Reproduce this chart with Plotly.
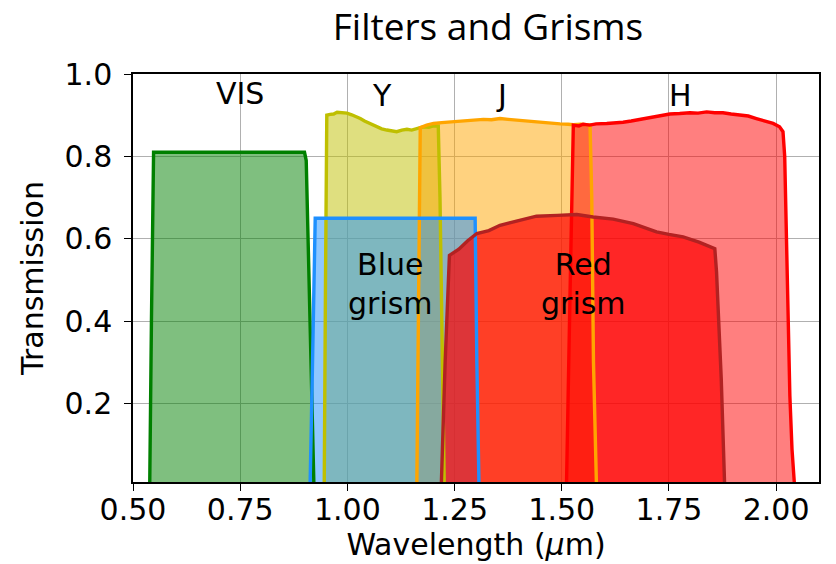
import plotly.graph_objects as go

# ---- transmission curves (wavelength in micron, transmission 0-1) ----
vis_wl = [0.500, 0.539, 0.543, 0.548, 0.60, 0.70, 0.80, 0.90, 0.904, 0.915, 0.922, 1.00, 1.50, 2.10]
vis_tr = [0.000, 0.000, 0.400, 0.810, 0.810, 0.810, 0.810, 0.810, 0.790, 0.300, 0.000, 0.000, 0.000, 0.000]

y_wl = [0.940, 0.946, 0.949, 0.952, 0.960, 0.968, 0.976, 0.983, 0.991, 0.999, 1.010, 1.020,
        1.030, 1.040, 1.050, 1.061, 1.070, 1.080, 1.092, 1.103, 1.115, 1.127, 1.139, 1.150,
        1.160, 1.170, 1.180, 1.190, 1.201, 1.212, 1.216, 1.221, 1.226, 1.240]
y_tr = [0.000, 0.000, 0.500, 0.900, 0.902, 0.903, 0.907, 0.906, 0.906, 0.905, 0.901, 0.897,
        0.892, 0.886, 0.881, 0.876, 0.870, 0.867, 0.864, 0.862, 0.860, 0.864, 0.866, 0.864,
        0.868, 0.870, 0.872, 0.871, 0.874, 0.874, 0.700, 0.300, 0.000, 0.000]

j_wl = [1.150, 1.162, 1.166, 1.170, 1.185, 1.201, 1.220, 1.240, 1.260, 1.278, 1.298, 1.317,
        1.336, 1.356, 1.375, 1.395, 1.415, 1.434, 1.449, 1.473, 1.496, 1.515, 1.527, 1.545,
        1.558, 1.566, 1.570, 1.574, 1.581, 1.600]
j_tr = [0.000, 0.000, 0.450, 0.870, 0.876, 0.880, 0.882, 0.884, 0.886, 0.887, 0.888, 0.890,
        0.889, 0.892, 0.890, 0.888, 0.887, 0.884, 0.883, 0.880, 0.879, 0.878, 0.877, 0.878,
        0.877, 0.876, 0.700, 0.300, 0.000, 0.000]

h_wl = [1.495, 1.511, 1.519, 1.527, 1.540, 1.550, 1.565, 1.580, 1.605, 1.625, 1.643, 1.662,
        1.682, 1.700, 1.721, 1.737, 1.752, 1.775, 1.799, 1.818, 1.838, 1.857, 1.876, 1.895,
        1.915, 1.935, 1.954, 1.975, 1.993, 2.008, 2.016, 2.020, 2.024, 2.028, 2.032, 2.037,
        2.043, 2.060]
h_tr = [0.000, 0.000, 0.450, 0.876, 0.874, 0.878, 0.876, 0.879, 0.880, 0.881, 0.883, 0.886,
        0.890, 0.894, 0.898, 0.900, 0.903, 0.904, 0.906, 0.905, 0.908, 0.906, 0.906, 0.903,
        0.900, 0.898, 0.892, 0.886, 0.880, 0.872, 0.860, 0.800, 0.600, 0.380, 0.220, 0.090,
        0.000, 0.000]

blue_wl = [0.900, 0.913, 0.918, 0.925, 1.000, 1.100, 1.200, 1.298, 1.302, 1.307, 1.320]
blue_tr = [0.000, 0.000, 0.260, 0.650, 0.650, 0.650, 0.650, 0.650, 0.300, 0.000, 0.000]

red_wl = [1.200, 1.219, 1.228, 1.238, 1.260, 1.280, 1.302, 1.330, 1.356, 1.400, 1.441, 1.490,
          1.535, 1.573, 1.620, 1.667, 1.700, 1.721, 1.750, 1.783, 1.820, 1.857, 1.861, 1.872,
          1.880, 1.900]
red_tr = [0.000, 0.000, 0.300, 0.560, 0.575, 0.595, 0.613, 0.620, 0.633, 0.645, 0.655, 0.657,
          0.659, 0.653, 0.648, 0.637, 0.626, 0.617, 0.611, 0.605, 0.592, 0.576, 0.520, 0.260,
          0.000, 0.000]

filter_labels = ["VIS", "Y", "J", "H"]
filter_label_x = [0.75, 1.08, 1.36, 1.777]
filter_label_y = [0.953, 0.947, 0.947, 0.947]

grism_labels = ["Blue<br>grism", "Red<br>grism"]
grism_label_x = [1.10, 1.55]
grism_label_y = [0.49, 0.49]

x_ticks = [0.50, 0.75, 1.00, 1.25, 1.50, 1.75, 2.00]
y_ticks = [0.2, 0.4, 0.6, 0.8, 1.0]

# (wavelengths, transmission, edge colour, fill colour)
curves = [
    (vis_wl, vis_tr, "#008000", "rgba(0,128,0,0.5)"),
    (y_wl, y_tr, "#bfbf00", "rgba(191,191,0,0.5)"),
    (j_wl, j_tr, "#ffa500", "rgba(255,165,0,0.5)"),
    (h_wl, h_tr, "#ff0000", "rgba(255,0,0,0.5)"),
    (blue_wl, blue_tr, "#1e90ff", "rgba(30,144,255,0.5)"),
    (red_wl, red_tr, "#b22222", "rgba(255,0,0,0.7)"),
]

fig = go.Figure()

# shaded areas first, outlines on top of all of them
for wl, tr, edge, fill in curves:
    fig.add_trace(go.Scatter(x=wl, y=tr, mode="lines", fill="tozeroy",
                             fillcolor=fill, line=dict(width=0, color=edge),
                             hoverinfo="skip", showlegend=False))
for wl, tr, edge, fill in curves:
    fig.add_trace(go.Scatter(x=wl, y=tr, mode="lines",
                             line=dict(width=3.4, color=edge),
                             showlegend=False))

base_font = dict(family="DejaVu Sans", size=30, color="black")

for txt, x, y in zip(filter_labels, filter_label_x, filter_label_y):
    fig.add_annotation(x=x, y=y, text=txt, showarrow=False, font=base_font,
                       xanchor="center", yanchor="middle")
for txt, x, y in zip(grism_labels, grism_label_x, grism_label_y):
    fig.add_annotation(x=x, y=y, text=txt, showarrow=False, font=base_font,
                       xanchor="center", yanchor="middle")

axis_common = dict(
    automargin=False,
    showline=True, linecolor="black", linewidth=1.5, mirror=True,
    ticks="outside", ticklen=7, tickwidth=1.3, tickcolor="black",
    showgrid=True, gridcolor="#b0b0b0", gridwidth=1, zeroline=False,
    tickfont=base_font,
)

fig.update_layout(
    template="none",
    width=836, height=564,
    margin=dict(l=133, r=17, t=74, b=82),
    paper_bgcolor="white", plot_bgcolor="white",
    title=dict(text="Filters and Grisms", x=488 / 836, xref="container", xanchor="center",
               y=1 - 27 / 564, yref="container", yanchor="middle",
               font=dict(family="Open Sans", size=37, color="black")),
    xaxis=dict(range=[0.5, 2.1], tickvals=x_ticks, tickformat=".2f",
               ticklabelstandoff=-7,
               title=dict(text="Wavelength (<i>μ</i>m)", font=base_font, standoff=6),
               **axis_common),
    yaxis=dict(range=[0.01, 1.0], tickvals=y_ticks, tickformat=".1f",
               ticklabelstandoff=6,
               title=dict(text="Transmission", font=base_font, standoff=12),
               **axis_common),
)

fig.write_html("out.html")
